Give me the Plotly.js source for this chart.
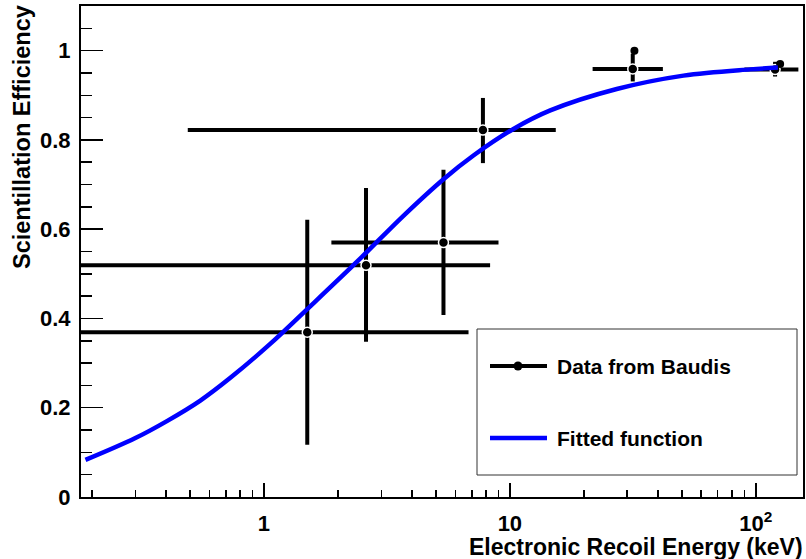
<!DOCTYPE html>
<html>
<head>
<meta charset="utf-8">
<script src="https://cdn.plot.ly/plotly-3.0.1.min.js"></script>
<style>html,body{margin:0;padding:0;background:#fff;}#chart{width:806px;height:559px;}</style>
</head>
<body>
<div id="chart"></div>
<script>
// Data from Baudis (energy in keV, efficiency)
const energy = [1.5, 2.6, 5.37, 7.77, 31.6, 119.8];
const efficiency = [0.369, 0.519, 0.570, 0.822, 0.959, 0.958];
const energyErrMinus = [5.29, 5.71, 3.49, 7.28, 9.9, 29.9];
const energyErrPlus = [5.29, 5.71, 3.62, 7.6, 10.3, 29.2];
const effErrMinus = [0.252, 0.171, 0.162, 0.074, 0.028, 0.016];
const effErrPlus = [0.252, 0.173, 0.163, 0.072, 0.034, 0.017];

// Additional single points without error bars
const extraEnergy = [32.1, 125.6];
const extraEff = [1.0, 0.970];

// Fitted function
const fitEnergy = [0.188, 0.3, 0.403, 0.551, 0.73, 1.06, 1.5, 2.42, 3.69, 5.37, 7.11, 10.3, 14.6, 27.2, 50.8, 94.8, 123];
const fitEff = [0.083, 0.132, 0.17, 0.216, 0.267, 0.343, 0.421, 0.53, 0.630, 0.712, 0.765, 0.824, 0.866, 0.914, 0.944, 0.958, 0.962];

// Axis ticks
const xTickVals = [1, 10, 100];
const xTickText = ['1', '10', '10<sup>2</sup>'];
const xMinorVals = [0.2,0.3,0.4,0.5,0.6,0.7,0.8,0.9,2,3,4,5,6,7,8,9,20,30,40,50,60,70,80,90];

const legendLabels = ['Data from Baudis', 'Fitted function'];
const xTitle = 'Electronic Recoil Energy (keV)';
const yTitle = 'Scientillation Efficiency';

const W = 806, H = 559;
const mL = 81, mR = 3, mT = 6, mB = 62;
const pw = W - mL - mR, ph = H - mT - mB;
const px = v => (v - mL) / pw;
const py = v => (H - mB - v) / ph;

const font = {family: 'Liberation Sans, Arial, Helvetica, sans-serif', color: '#000', weight: 'bold'};

const traces = [
  {
    x: energy, y: efficiency, type: 'scatter', mode: 'markers',
    marker: {size: 10, color: '#000', line: {color: '#fff', width: 1.5}},
    error_x: {type: 'data', symmetric: false, array: energyErrPlus, arrayminus: energyErrMinus, color: '#000', thickness: 4, width: 0},
    error_y: {type: 'data', symmetric: false, array: effErrPlus, arrayminus: effErrMinus, color: '#000', thickness: 4, width: 0},
    showlegend: false, hoverinfo: 'x+y'
  },
  {
    x: extraEnergy, y: extraEff, type: 'scatter', mode: 'markers',
    marker: {size: 8, color: '#000'}, showlegend: false
  },
  {
    x: fitEnergy, y: fitEff, type: 'scatter', mode: 'lines',
    line: {color: '#0000ff', width: 4.5, shape: 'spline', smoothing: 1},
    showlegend: false
  }
];

const yL1 = py(366), yL2 = py(438);
const layout = {
  width: W, height: H,
  margin: {l: mL, r: mR, t: mT, b: mB, pad: 0},
  paper_bgcolor: '#fff', plot_bgcolor: '#fff',
  showlegend: false,
  xaxis: {
    type: 'log', range: [Math.log10(0.1803), Math.log10(155.6)],
    tickmode: 'array', tickvals: xTickVals, ticktext: xTickText,
    ticks: 'inside', ticklen: 14, tickwidth: 1.5, tickcolor: '#000',
    minor: {tickmode: 'array', tickvals: xMinorVals, ticks: 'inside', ticklen: 7, tickwidth: 1.5, tickcolor: '#000', showgrid: false},
    showline: true, linecolor: '#000', linewidth: 2, mirror: true,
    showgrid: false, zeroline: false,
    tickfont: Object.assign({size: 22}, font), ticklabelstandoff: 6
  },
  yaxis: {
    range: [0, 1.1], tickmode: 'linear', tick0: 0, dtick: 0.2,
    ticks: 'inside', ticklen: 22, tickwidth: 1.5, tickcolor: '#000',
    minor: {dtick: 0.05, tick0: 0, ticks: 'inside', ticklen: 11, tickwidth: 1.5, tickcolor: '#000', showgrid: false},
    showline: true, linecolor: '#000', linewidth: 2, mirror: true,
    showgrid: false, zeroline: false,
    tickfont: Object.assign({size: 22}, font), ticklabelstandoff: 4
  },
  shapes: [
    {type: 'rect', xref: 'paper', yref: 'paper', x0: px(477), x1: px(797), y0: py(475), y1: py(329),
     line: {color: '#333', width: 1}, fillcolor: '#fff', layer: 'above'},
    {type: 'line', xref: 'paper', yref: 'paper', x0: px(490), x1: px(547), y0: yL1, y1: yL1,
     line: {color: '#000', width: 4}, layer: 'above'},
    {type: 'circle', xref: 'paper', yref: 'paper', xsizemode: 'pixel', ysizemode: 'pixel',
     xanchor: px(518), yanchor: yL1, x0: -4.5, x1: 4.5, y0: -4.5, y1: 4.5,
     fillcolor: '#000', line: {color: '#000', width: 0}, layer: 'above'},
    {type: 'line', xref: 'paper', yref: 'paper', x0: px(490), x1: px(547), y0: yL2, y1: yL2,
     line: {color: '#0000ff', width: 4.5}, layer: 'above'}
  ],
  annotations: [
    {text: legendLabels[0], xref: 'paper', yref: 'paper', x: px(555), y: yL1, xanchor: 'left', yanchor: 'middle',
     showarrow: false, font: Object.assign({size: 21}, font)},
    {text: legendLabels[1], xref: 'paper', yref: 'paper', x: px(555), y: yL2, xanchor: 'left', yanchor: 'middle',
     showarrow: false, font: Object.assign({size: 21}, font)},
    {text: xTitle, xref: 'paper', yref: 'paper', x: px(804), y: py(547), xanchor: 'right', yanchor: 'middle',
     showarrow: false, font: Object.assign({size: 23}, font), borderpad: 0},
    {text: yTitle, xref: 'paper', yref: 'paper', x: px(22), y: py(3), xanchor: 'center', yanchor: 'top',
     textangle: -90, showarrow: false, font: Object.assign({size: 23.5}, font)}
  ]
};

Plotly.newPlot('chart', traces, layout, {displayModeBar: false, staticPlot: true});
</script>
</body>
</html>
